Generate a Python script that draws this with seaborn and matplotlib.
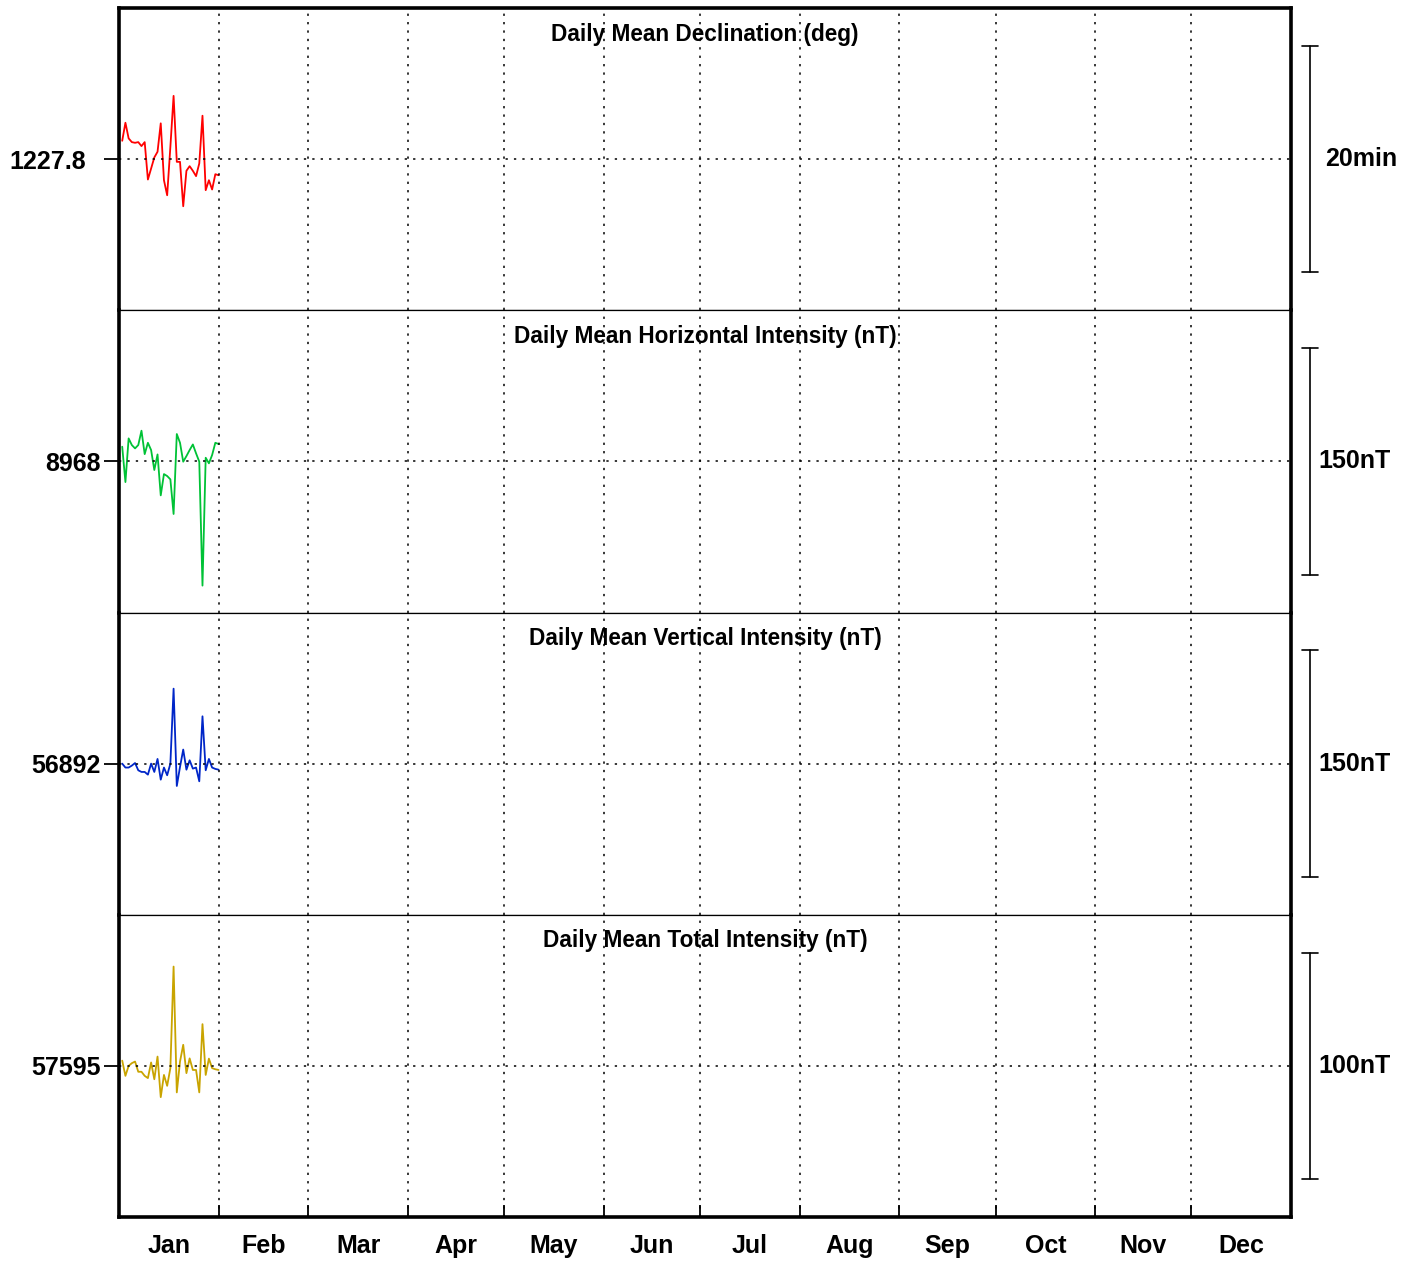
import numpy as np
import pandas as pd
import matplotlib
matplotlib.use("Agg")
import matplotlib.pyplot as plt
import matplotlib.transforms as mtransforms
import seaborn as sns

# ---------------- data ----------------
days = list(range(1, 32))
months = ["Jan", "Feb", "Mar", "Apr", "May", "Jun", "Jul", "Aug", "Sep", "Oct", "Nov", "Dec"]
month_len = [31, 28, 31, 30, 31, 30, 31, 31, 30, 31, 30, 31]

titles = ["Daily Mean Declination (deg)", "Daily Mean Horizontal Intensity (nT)",
          "Daily Mean Vertical Intensity (nT)", "Daily Mean Total Intensity (nT)"]
baseline_labels = ["1227.8", "8968", "56892", "57595"]
scale_values = [20, 150, 150, 100]
scale_labels = ["20min", "150nT", "150nT", "100nT"]

# deviations from baseline (minutes for declination, nT otherwise)
decl_dev = [1.62, 3.21, 1.83, 1.50, 1.44, 1.50, 1.15, 1.50, -1.80, -0.83, 0.15, 0.65,
            3.16, -1.86, -3.19, 1.09, 5.58, -0.24, -0.24, -4.16, -1.03, -0.62, -1.03,
            -1.50, -0.38, 3.83, -2.74, -1.86, -2.68, -1.33, -1.42]
horiz_dev = [9.7, -13.7, 15.2, 10.8, 8.6, 10.8, 20.3, 4.8, 12.3, 7.5, -5.7, 4.6,
             -22.5, -8.4, -9.7, -11.9, -34.8, 18.1, 12.3, -0.2, 3.5, 7.5, 11.2, 5.3,
             -0.2, -82.2, 2.4, -1.3, 4.2, 12.3, 11.5]
vert_dev = [0.0, -2.6, -2.6, -1.3, 0.4, -4.4, -5.5, -5.5, -7.3, 0.0, -5.5, 3.1,
            -10.6, -2.6, -7.7, 0.0, 49.6, -14.8, -2.2, 9.3, -4.0, 2.2, -3.3, -2.6,
            -11.7, 31.3, -4.4, 3.1, -2.6, -3.5, -4.0]
total_dev = [2.3, -4.4, 0.0, 1.2, 1.9, -2.6, -2.6, -4.4, -5.4, 1.5, -5.9, 4.1,
             -13.8, -4.0, -8.8, -1.0, 43.8, -11.7, 1.9, 9.3, -3.2, 3.3, -1.8, -1.8,
             -11.7, 18.4, -4.0, 3.2, -1.0, -1.5, -1.8]

series = [decl_dev, horiz_dev, vert_dev, total_dev]
colors = ["#ff0000", "#00c236", "#0026c8", "#c9a400"]

# ---------------- style ----------------
sns.set_style("white")
plt.rcParams["font.family"] = ["Liberation Sans", "DejaVu Sans"]
plt.rcParams["font.weight"] = "bold"
plt.rcParams["text.color"] = "black"
plt.rcParams["xtick.color"] = "black"
plt.rcParams["ytick.color"] = "black"
plt.rcParams["xtick.labelcolor"] = "black"
plt.rcParams["ytick.labelcolor"] = "black"

fig = plt.figure(figsize=(14.13, 12.63), dpi=100)
left, right = 119 / 1413, 1291 / 1413
top, bottom = 1 - 8 / 1263, 1 - 1217 / 1263
gs = fig.add_gridspec(4, 1, left=left, right=right, top=top, bottom=bottom, hspace=0)

bounds = np.cumsum([0] + month_len)
mids = (bounds[:-1] + bounds[1:]) / 2

label_pads = [13, 2, 2, 2]
scale_x = [1.029, 1.023, 1.023, 1.023]

for i in range(4):
    ax = fig.add_subplot(gs[i])
    df = pd.DataFrame({"day": days, "value": series[i]})
    sns.lineplot(data=df, x="day", y="value", ax=ax, color=colors[i], linewidth=1.3,
                 zorder=2)
    half = scale_values[i] / 1.5
    ax.set_xlim(0, 365)
    ax.set_ylim(-half, half)
    ax.set_xlabel("")
    ax.set_ylabel("")

    # grid
    ax.set_xticks(bounds[1:-1])
    ax.set_yticks([0])
    ax.grid(True, which="major", color="black", linestyle=(0, (1.5, 4)), linewidth=1.1)
    ax.set_axisbelow(False)
    ax.set_yticklabels([baseline_labels[i]], fontsize=18, fontweight="bold")
    ax.tick_params(axis="y", which="major", direction="out", length=11, width=1.3,
                   pad=label_pads[i], left=True)

    # month labels at bottom only
    if i == 3:
        ax.set_xticks(mids, minor=True)
        ax.set_xticklabels(months, minor=True, fontsize=18, fontweight="bold")
        ax.tick_params(axis="x", which="minor", length=0, pad=12)
        ax.set_xticklabels([""] * len(bounds[1:-1]))
        ax.tick_params(axis="x", which="major", direction="in", length=9, width=1.3,
                       bottom=True)
    else:
        ax.set_xticklabels([])
        ax.tick_params(axis="x", which="major", length=0)

    # spines
    for side in ["left", "right", "top", "bottom"]:
        ax.spines[side].set_visible(True)
        ax.spines[side].set_color("black")
    ax.spines["left"].set_linewidth(2.6)
    ax.spines["right"].set_linewidth(2.6)
    ax.spines["top"].set_linewidth(2.6 if i == 0 else 0.9)
    ax.spines["bottom"].set_linewidth(2.6 if i == 3 else 0.9)

    # panel title
    ax.text(0.5, 1 - 26 / 302, titles[i], transform=ax.transAxes, ha="center",
            va="center", fontsize=16.3, fontweight="bold", zorder=1)

    # scale bracket on the right
    trans = mtransforms.blended_transform_factory(ax.transAxes, ax.transData)
    bx = (1310 - 119) / 1172
    cap = 8 / 1172
    ax.plot([bx, bx], [-scale_values[i] / 2, scale_values[i] / 2], color="black",
            lw=1.2, transform=trans, clip_on=False)
    for yv in (-scale_values[i] / 2, scale_values[i] / 2):
        ax.plot([bx - cap, bx + cap], [yv, yv], color="black", lw=1.2,
                transform=trans, clip_on=False)
    ax.text(scale_x[i], 0, scale_labels[i], transform=trans, ha="left", va="center",
            fontsize=18, fontweight="bold")

fig.savefig("out.png", dpi=100)
